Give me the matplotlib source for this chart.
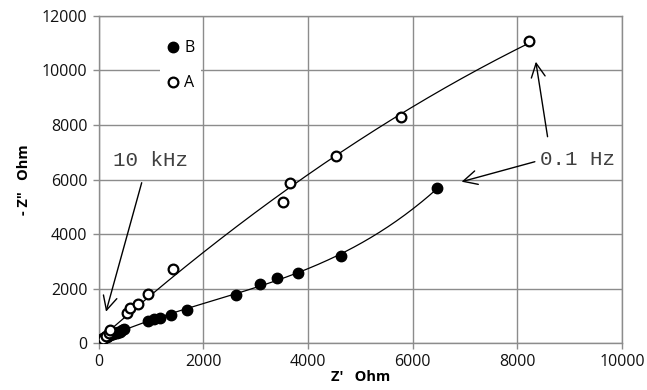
import numpy as np
from matplotlib import pyplot as plt

# Nyquist data (Z' and -Z'' in Ohm)
a_re = [10, 40, 80, 130, 191, 216, 535, 598, 757, 936, 1426, 3515, 3659, 4533, 5775, 8226]
a_im = [20, 80, 160, 250, 366, 487, 1099, 1282, 1428, 1795, 2722, 5190, 5883, 6860, 8300, 11073]

b_re = [0, 20, 57, 90, 120, 150, 183, 220, 248, 280, 311, 340, 374, 400, 439, 483,
        948, 1056, 1171, 1381, 1681, 2623, 3081, 3400, 3813, 4622, 6468]
b_im = [20, 60, 147, 180, 220, 240, 267, 290, 330, 340, 366, 380, 425, 430, 487, 512,
        828, 879, 939, 1037, 1220, 1769, 2172, 2381, 2586, 3209, 5678]

x_ticks = [0, 2000, 4000, 6000, 8000, 10000]
y_ticks = [0, 2000, 4000, 6000, 8000, 10000, 12000]

grid_color = "#8c8c8c"
sans = ["Open Sans", "DejaVu Sans"]
mono = ["Liberation Mono", "DejaVu Sans Mono"]

fig = plt.figure(figsize=(6.47, 3.9), dpi=100)
ax = fig.add_axes([0.1526, 0.1197, 0.8088, 0.84])

ax.set_xlim(0, 10000)
ax.set_ylim(0, 12000)
ax.set_xticks(x_ticks)
ax.set_yticks(y_ticks)
ax.grid(True, color=grid_color, linewidth=1.0)
ax.set_axisbelow(True)
for s in ax.spines.values():
    s.set_color(grid_color)
    s.set_linewidth(1.0)
ax.tick_params(direction="out", length=4, color=grid_color, width=1.0,
               labelsize=11.5, pad=4, labelcolor="#111111")
for lab in ax.get_xticklabels() + ax.get_yticklabels():
    lab.set_family(sans)

# trend lines
pa = np.polyfit(a_re, a_im, 2)
xa = np.linspace(0, max(a_re), 200)
ax.plot(xa, np.polyval(pa, xa), color="black", linewidth=0.9, zorder=2)
pb = np.polyfit(b_re, b_im, 3)
xb = np.linspace(0, max(b_re), 200)
ax.plot(xb, np.polyval(pb, xb), color="black", linewidth=0.9, zorder=2)

ax.plot(b_re, b_im, "o", color="black", markersize=7.5, label="B", zorder=3)
ax.plot(a_re, a_im, "o", markerfacecolor="white", markeredgecolor="black",
        markeredgewidth=1.6, markersize=7, label="A", zorder=3)

leg = ax.legend(loc="upper left", bbox_to_anchor=(0.118, 0.945), frameon=True,
                fancybox=False, edgecolor="none", facecolor="white", framealpha=1,
                handlelength=0.8, handletextpad=0.3, labelspacing=1.2,
                borderpad=0.4, borderaxespad=0.0, prop={"family": sans, "size": 11.5})

# annotations
arrow = dict(arrowstyle="->,head_length=1.0,head_width=0.5", color="black",
             linewidth=1.0, shrinkA=0, shrinkB=0)
ax.text(275, 6700, "10 kHz", family=mono, fontsize=15, color="#404040",
        va="center", ha="left")
ax.annotate("", xy=(139, 1158), xytext=(821, 5883), arrowprops=arrow)
ax.text(8440, 6720, "0.1 Hz", family=mono, fontsize=15, color="#404040",
        va="center", ha="left")
ax.annotate("", xy=(8353, 10315), xytext=(8577, 7568), arrowprops=arrow)
ax.annotate("", xy=(6934, 5919), xytext=(8334, 6652), arrowprops=arrow)

ax.set_xlabel("Z'   Ohm", family=sans, fontsize=10.5, fontweight="bold", labelpad=0)
ax.set_ylabel('- Z"   Ohm', family=sans, fontsize=10.5, fontweight="bold", labelpad=8)

fig.savefig("out.png", dpi=100)
